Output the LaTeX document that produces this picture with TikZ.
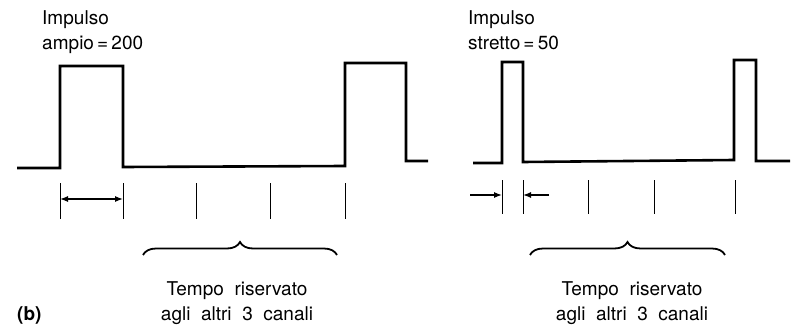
\documentclass[tikz,border=0pt]{standalone}
\usepackage{fontspec}
\setmainfont{TeX Gyre Heros}
\usetikzlibrary{positioning, decorations.pathreplacing, arrows.meta}

\begin{document}
\begin{tikzpicture}[
    x = 1pt, y = -1pt,
    font = \fontsize{19}{25}\selectfont,
    signal/.style = {line width = 2.6pt, line join = miter},
    tick/.style = {line width = 0.9pt},
    width/.style = {
      line width = 1.3pt, > = {Latex[length = 8pt, width = 6pt]}
    },
    period/.style = {
      line width = 1.8pt, decorate,
      decoration = {brace, amplitude = 13pt}
    },
    label/.style = {align = left, inner sep = 0pt, anchor = base west},
    caption/.style = {align = center, inner sep = 0pt, anchor = base}
  ]
  \useasboundingbox (0,0) rectangle (791,331);

  % wide pulses, 200
  \draw  [signal]  (17,168) -- (60,168) -- (60,66) -- (123,66) -- (123,167)
    -- (345,166) -- (345,63) -- (406,63) -- (406,161) -- (428,161);
  % narrow pulses, 50
  \draw  [signal]  (473,163) -- (502,163) -- (502,62) -- (523,62) -- (523,162)
    -- (734,160) -- (734,60) -- (756,60) -- (756,161) -- (790,161);

  % time slots
  \foreach \x [count = \i] in {60, 123, 196, 270, 345} {
    \draw  [tick]  (\x,183) -- (\x,219);
    \coordinate  (wa\i)  at  (\x,199);
  }
  \foreach \x [count = \i] in {502, 523, 588, 654, 735} {
    \draw  [tick]  (\x,180) -- (\x,214);
    \coordinate  (na\i)  at  (\x,195);
  }

  % pulse widths
  \draw  [width, <->]  (wa1)  --  (wa2);
  \coordinate  (nin)  at  (470,195);
  \coordinate  (nout)  at  (549,195);
  \draw  [width, ->]  (nin)  --  (na1);
  \draw  [width, ->]  (nout)  --  (na2);

  % braces
  \coordinate  (wb1)  at  (143,255);
  \coordinate  (wb2)  at  (337,255);
  \coordinate  (nb1)  at  (530,255);
  \coordinate  (nb2)  at  (725,255);
  \draw  [period]  (wb1)  --  (wb2);
  \draw  [period]  (nb1)  --  (nb2);

  % labels
  \node  [label]  (wlabel)  at  (42,50)  {Impulso\\ampio\,=\,200};
  \node  [label]  (nlabel)  at  (468,50)  {Impulso\\stretto\,=\,50};
  \node  [caption]  (wtext)  at  (237,320)  {Tempo \ riservato\\agli \ altri \ 3 \ canali};
  \node  [caption]  (ntext)  at  (632,320)  {Tempo \ riservato\\agli \ altri \ 3 \ canali};
  \node  [inner sep = 0pt, anchor = base west, font = \fontsize{19}{25}\selectfont\bfseries]
    (part)  at  (17,320)  {(b)};
\end{tikzpicture}
\end{document}
